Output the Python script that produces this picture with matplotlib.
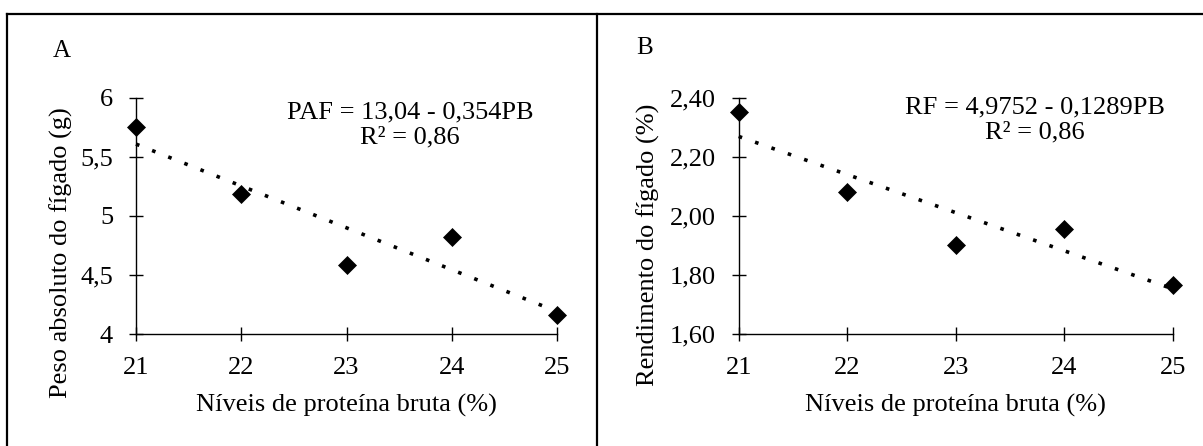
import matplotlib
matplotlib.use("Agg")
import matplotlib.pyplot as plt
from matplotlib.lines import Line2D
import numpy as np

plt.rcParams['font.family'] = ['Liberation Serif', 'DejaVu Serif']
FS = 19

# Data
protein_levels = [21, 22, 23, 24, 25]
liver_weight = [5.75, 5.18, 4.58, 4.82, 4.16]      # Panel A (g)
liver_yield = [2.35, 2.08, 1.90, 1.955, 1.765]      # Panel B (%)

# Regression coefficients stated on chart
coef_a = (13.04, -0.354)
coef_b = (4.9752, -0.1289)

yticks_a = [4, 4.5, 5, 5.5, 6]
yticklabels_a = ["4", "4,5", "5", "5,5", "6"]
yticks_b = [1.60, 1.80, 2.00, 2.20, 2.40]
yticklabels_b = ["1,60", "1,80", "2,00", "2,20", "2,40"]

xlabel = "Níveis de proteína bruta (%)"
ylabel_a = "Peso absoluto do fígado (g)"
ylabel_b = "Rendimento do fígado (%)"
eq_a = "PAF = 13,04 - 0,354PB\nR² = 0,86"
eq_b = "RF = 4,9752 - 0,1289PB\nR² = 0,86"

W, H = 1203, 446
fig = plt.figure(figsize=(W / 100, H / 100), dpi=100)

def px_axes(l, r, top, bottom):
    return [l / W, 1 - bottom / H, (r - l) / W, (bottom - top) / H]

ax_a = fig.add_axes(px_axes(136, 557, 97.5, 334))
ax_b = fig.add_axes(px_axes(738.7, 1172.7, 97.5, 334))

def style(ax, y, coef, yticks, yticklabels, ylabel, eq, ylab_xy, eq_xy):
    x = np.array(protein_levels, dtype=float)
    xs = np.array([x.min(), x.max()])
    ax.plot(xs, coef[0] + coef[1] * xs, color='black', lw=2.6,
            linestyle=(0, (1, 3.8)), dash_capstyle='butt', clip_on=False, zorder=2)
    ax.plot(x, y, linestyle='none', marker='D', ms=8.8, color='black',
            mec='black', mew=0.5, clip_on=False, zorder=3)
    ax.set_xlim(21, 25)
    ax.set_ylim(yticks[0], yticks[-1])
    ax.set_xticks(protein_levels)
    ax.set_xticklabels([str(v) for v in protein_levels])
    ax.set_yticks(yticks)
    ax.set_yticklabels(yticklabels)
    for s in ['top', 'right']:
        ax.spines[s].set_visible(False)
    for s in ['left', 'bottom']:
        ax.spines[s].set_linewidth(1.0)
        ax.spines[s].set_color('black')
    ax.tick_params(direction='inout', length=10, width=1.0, labelsize=FS, pad=11.5, colors='black')
    ax.set_xlabel(xlabel, fontsize=FS, va='center')
    ax.xaxis.set_label_coords(0.5, (334 - 405) / 236.5)
    ax.set_ylabel(ylabel, fontsize=FS, va='center')
    ax.yaxis.set_label_coords(*ylab_xy)
    ax.text(eq_xy[0], eq_xy[1], eq, transform=ax.transAxes, ha='center', va='center',
            multialignment='center', fontsize=FS, linespacing=1.2)
    ax.patch.set_alpha(0)

style(ax_a, liver_weight, coef_a, yticks_a, yticklabels_a, ylabel_a, eq_a,
      ((61 - 136) / 421, (334 - 253) / 236.5), (0.651, 0.884))
style(ax_b, liver_yield, coef_b, yticks_b, yticklabels_b, ylabel_b, eq_b,
      ((648 - 738.7) / 434, (334 - 245) / 236.5), (0.683, 0.905))

# Panel letters
fig.text(62 / W, 1 - 51 / H, "A", ha='center', va='center', fontsize=FS - 1)
fig.text(645 / W, 1 - 48 / H, "B", ha='center', va='center', fontsize=FS - 1)

# Frame lines
lw = 1.6
fig.add_artist(Line2D([7 / W, 1.0], [1 - 14 / H, 1 - 14 / H], color='black', lw=lw))
fig.add_artist(Line2D([7 / W, 7 / W], [0, 1 - 14 / H], color='black', lw=lw))
fig.add_artist(Line2D([597 / W, 597 / W], [0, 1 - 14 / H], color='black', lw=lw))

fig.savefig("out.png", dpi=100)
